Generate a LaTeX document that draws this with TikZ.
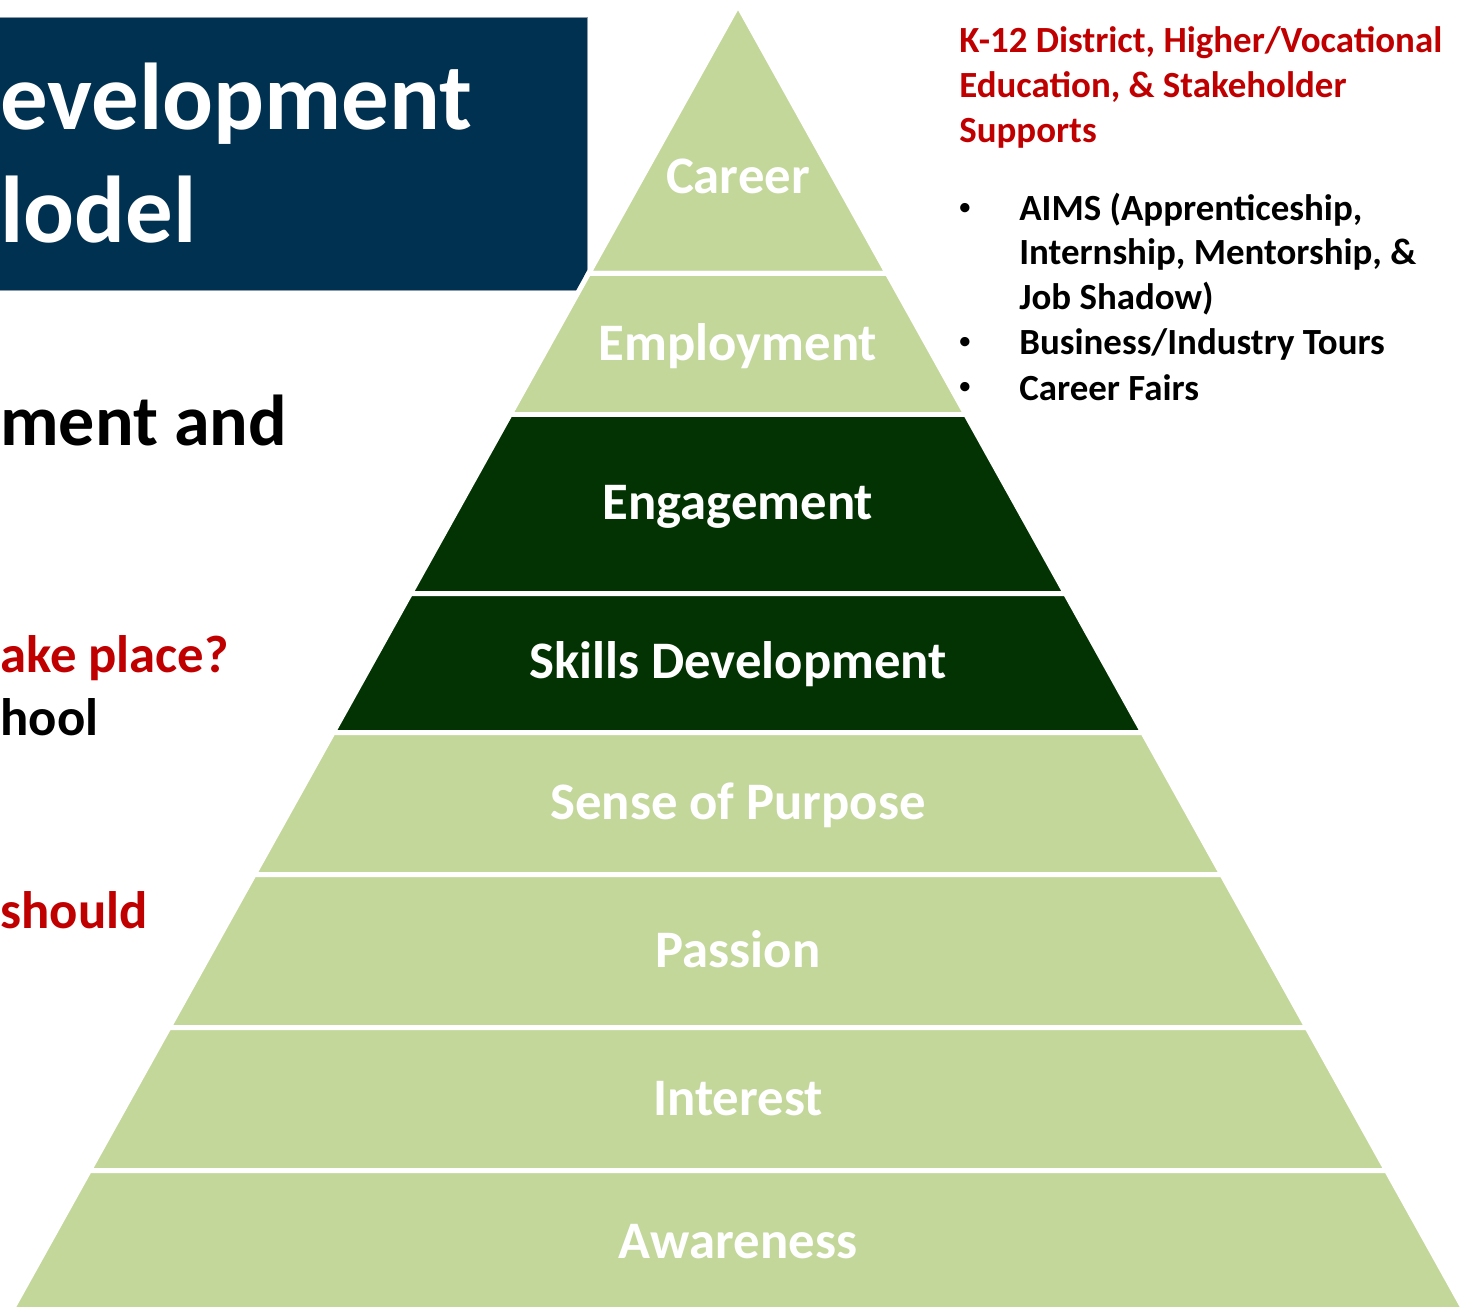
\documentclass[tikz,border=0pt]{standalone}
\usepackage{fontspec}
\setmainfont{Carlito}
\usetikzlibrary{positioning}
\definecolor{navy}{HTML}{003150}
\definecolor{leaf}{HTML}{C4D79B}
\definecolor{forest}{HTML}{033303}
\definecolor{brick}{HTML}{C00000}
\definecolor{rim}{HTML}{8A9AA8}

\begin{document}
\begin{tikzpicture}[x=0.02cm,y=-0.02cm]
  \tikzstyle{layer}=[draw=white,line width=0.1cm]
  \tikzstyle{lvl}=[text=white,inner sep=0pt,anchor=base,
              font=\fontsize{30}{36}\selectfont\bfseries]
  \tikzstyle{side}=[inner sep=0pt,anchor=base west,
              font=\fontsize{21}{25}\selectfont\bfseries]
  \tikzstyle{lefttxt}=[inner sep=0pt,anchor=base west,
              font=\fontsize{30}{36}\selectfont\bfseries]
  \useasboundingbox (0,0) rectangle (1467,1307);
  % title box
  \filldraw[fill=navy,draw=rim,line width=0.5pt] (-10,17) rectangle (587,290);
  \node[lefttxt,text=white,font=\fontsize{54}{64}\selectfont\bfseries] (ttl1) at (0,130) {evelopment};
  \node[lefttxt,text=white,font=\fontsize{54}{64}\selectfont\bfseries] (ttl2) at (0,243) {lodel};
  % left texts
  \node[lefttxt,font=\fontsize{41}{49}\selectfont\bfseries] (mentand) at (0,445) {ment and};
  \node[lefttxt,text=brick] (where) at (0,672) {ake place?};
  \node[lefttxt] (school) at (0,735) {hool};
  \node[lefttxt,text=brick] (should) at (0,928) {should};
  % pyramid
  \foreach \a/\b/\c in {5/273.5/leaf,273.5/414.5/leaf,414.5/593.5/forest,593.5/732.5/forest,
                        732.5/874.5/leaf,874.5/1027.5/leaf,1027.5/1170.5/leaf,1170.5/1330/leaf}
    \filldraw[layer,fill=\c] ({738-(\a-5)*0.5565},\a) -- ({738+(\a-5)*0.5565},\a)
      -- ({738+(\b-5)*0.5565},\b) -- ({738-(\b-5)*0.5565},\b) -- cycle;
  \node[lvl] (career) at (738,194) {Career};
  \node[lvl] (employ) at (738,360) {Employment};
  \node[lvl] (engage) at (738,519) {Engagement};
  \node[lvl] (skills) at (738,678) {Skills Development};
  \node[lvl] (purpose) at (738,819) {Sense of Purpose};
  \node[lvl] (passion) at (738,967) {Passion};
  \node[lvl] (interest) at (738,1115) {Interest};
  \node[lvl] (aware) at (738,1258) {Awareness};
  % supports
  \node[side,text=brick] (sup1) at (959,53) {K-12 District, Higher/Vocational};
  \node[side,text=brick] (sup2) at (959,98) {Education, \& Stakeholder};
  \node[side,text=brick] (sup3) at (959,143) {Supports};
  \node[side] (aims1) at (1019,221) {AIMS (Apprenticeship,};
  \node[side] (aims2) at (1019,265) {Internship, Mentorship, \&};
  \node[side] (aims3) at (1019,310) {Job Shadow)};
  \node[side] (tours) at (1019,355) {Business/Industry Tours};
  \node[side] (fairs) at (1019,400) {Career Fairs};
  \foreach \y/\n in {216/dota,350/dotb,395/dotc}
    \node[side,anchor=base,font=\fontsize{15}{18}\selectfont] (\n) at (965,\y) {\textbullet};
\end{tikzpicture}
\end{document}
